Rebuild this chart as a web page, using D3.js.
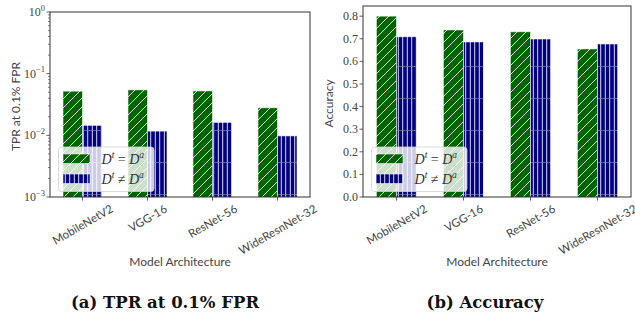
<!DOCTYPE html>
<html>
<head>
<meta charset="utf-8">
<script src="https://cdn.jsdelivr.net/npm/d3@7/dist/d3.min.js"></script>
<style>
  html, body { margin: 0; padding: 0; background: #fff; }
  svg { display: block; }
</style>
</head>
<body>
<svg id="chart" width="635" height="320"></svg>
<script>
// Model architectures on the x axis
const categories = ["MobileNetV2", "VGG-16", "ResNet-56", "WideResnNet-32"];

// TPR at 0.1% FPR (log scale)
const tprSame = [0.052, 0.0546, 0.0525, 0.028];
const tprDiff = [0.0145, 0.0117, 0.0162, 0.0098];

// Accuracy
const accSame = [0.800, 0.739, 0.731, 0.655];
const accDiff = [0.709, 0.686, 0.699, 0.677];

// Tick values
const logTicks = [1e-3, 1e-2, 1e-1, 1];
const logTickExp = ["\u22123", "\u22122", "\u22121", "0"];
const accTicks = [0, 0.1, 0.2, 0.3, 0.4, 0.5, 0.6, 0.7, 0.8];

const svg = d3.select("#chart");
const tickColor = "#444";
const serif = "'Liberation Serif', 'DejaVu Serif', serif";
const capSerif = "'DejaVu Serif', 'Liberation Serif', serif";
const sans = "Lato, 'Open Sans', sans-serif";
const green = "#006400";
const navy = "#000080";
const labelAngle = 30;

// Hatch patterns
const defs = svg.append("defs");
const diag = defs.append("pattern")
  .attr("id", "hatchDiag").attr("patternUnits", "userSpaceOnUse")
  .attr("width", 9).attr("height", 9);
diag.append("rect").attr("width", 9).attr("height", 9).attr("fill", green);
diag.append("path").attr("d", "M-1,10 L10,-1 M-1,1 L1,-1 M8,10 L10,8")
  .attr("stroke", "#e8f0e8").attr("stroke-width", 0.9);

const vert = defs.append("pattern")
  .attr("id", "hatchVert").attr("patternUnits", "userSpaceOnUse")
  .attr("width", 4.5).attr("height", 32).attr("y", 2);
vert.append("rect").attr("width", 4.5).attr("height", 32).attr("fill", navy);
vert.append("line").attr("x1", 2.25).attr("x2", 2.25).attr("y1", 0).attr("y2", 32)
  .attr("stroke", "#ffffff").attr("stroke-width", 0.9);
vert.append("line").attr("x1", 0).attr("x2", 4.5).attr("y1", 0.5).attr("y2", 0.5)
  .attr("stroke", "#8080c0").attr("stroke-width", 1).attr("opacity", 0.7);

function panel(opts) {
  const g = svg.append("g");
  const x = d3.scaleBand().domain(categories).range([opts.x0, opts.x1]).padding(0);
  const y = opts.y;
  const step = x.step();
  const bw = step * 0.3;

  const clipId = "clip" + opts.id;
  defs.append("clipPath").attr("id", clipId)
    .append("rect").attr("x", opts.x0).attr("y", opts.yTop)
    .attr("width", opts.x1 - opts.x0).attr("height", opts.yBottom - opts.yTop);

  const bars = g.append("g").attr("clip-path", `url(#${clipId})`);
  const series = [
    { vals: opts.same, fill: "url(#hatchDiag)", off: -bw },
    { vals: opts.diff, fill: "url(#hatchVert)", off: 0 }
  ];
  series.forEach(s => {
    bars.selectAll(null).data(categories).enter().append("rect")
      .attr("x", (c) => x(c) + step / 2 + s.off)
      .attr("width", bw)
      .attr("y", (c, i) => y(s.vals[i]))
      .attr("height", (c, i) => opts.yBottom - y(s.vals[i]) + 2)
      .attr("fill", s.fill)
      .attr("stroke", "#ffffff").attr("stroke-opacity", 0.55).attr("stroke-width", 1);
  });

  // frame
  g.append("rect").attr("x", opts.x0).attr("y", opts.yTop)
    .attr("width", opts.x1 - opts.x0).attr("height", opts.yBottom - opts.yTop)
    .attr("fill", "none").attr("stroke", "#333").attr("stroke-width", 1);

  // x ticks with rotated labels centred under each group
  const xt = g.append("g");
  categories.forEach(c => {
    const cx = x(c) + step / 2;
    xt.append("line").attr("x1", cx).attr("x2", cx)
      .attr("y1", opts.yBottom).attr("y2", opts.yBottom + 3.5)
      .attr("stroke", "#333").attr("stroke-width", 0.8);
    const t = xt.append("text").text(c)
      .attr("font-family", sans).attr("font-size", 11.5).attr("fill", tickColor)
      .attr("text-anchor", "middle").attr("dominant-baseline", "central");
    const w = t.node().getComputedTextLength();
    const a = labelAngle * Math.PI / 180;
    const hr = w * Math.sin(a) + 10 * Math.cos(a);
    const cy = opts.yBottom + 6 + hr / 2;
    t.attr("transform", `translate(${cx},${cy}) rotate(${-labelAngle})`);
  });

  // x axis title
  g.append("text").text("Model Architecture")
    .attr("x", (opts.x0 + opts.x1) / 2).attr("y", 266)
    .attr("text-anchor", "middle").attr("font-family", sans)
    .attr("font-size", 12).attr("fill", tickColor);

  // y axis title
  g.append("text").text(opts.ylabel)
    .attr("transform", `translate(${opts.x0 - 35},${(opts.yTop + opts.yBottom) / 2 + 2}) rotate(-90)`)
    .attr("text-anchor", "middle").attr("dominant-baseline", "central")
    .attr("font-family", sans).attr("font-size", 12).attr("fill", tickColor);

  // caption
  g.append("text").text(opts.caption)
    .attr("x", opts.capX).attr("y", 308)
    .attr("text-anchor", "middle").attr("font-family", capSerif)
    .attr("font-weight", "bold").attr("font-size", 16.5).attr("fill", "#111");

  // legend
  const lx = opts.x0 + 8.5, ly = 147;
  const lg = g.append("g");
  lg.append("rect").attr("x", lx).attr("y", ly).attr("width", 95.5).attr("height", 44.5)
    .attr("rx", 3).attr("fill", "#ffffff").attr("fill-opacity", 0.8)
    .attr("stroke", "#d0d0d0").attr("stroke-width", 0.8);
  const entries = [
    { fill: "url(#hatchDiag)", rel: "=" },
    { fill: "url(#hatchVert)", rel: "\u2260" }
  ];
  entries.forEach((e, i) => {
    const py = ly + 7 + i * 20;
    lg.append("rect").attr("x", lx + 4.5).attr("y", py).attr("width", 27).attr("height", 9.5)
      .attr("fill", e.fill).attr("stroke", "#ffffff").attr("stroke-opacity", 0.55).attr("stroke-width", 1);
    const t = lg.append("text").attr("x", lx + 43).attr("y", py + 9.5)
      .attr("font-family", serif).attr("font-size", 14).attr("fill", "#333");
    t.append("tspan").attr("font-style", "italic").text("D");
    t.append("tspan").attr("font-style", "italic").attr("font-size", 9.5).attr("dy", -5.5).text("t");
    t.append("tspan").attr("dy", 5.5).text(" " + e.rel + " ");
    t.append("tspan").attr("font-style", "italic").text("D");
    t.append("tspan").attr("font-style", "italic").attr("font-size", 9.5).attr("dy", -5.5).text("a");
  });

  return g;
}

// (a) TPR at 0.1% FPR, log scale
const yLog = d3.scaleLog().domain([1e-3, 1]).range([197, 12]);
const gA = panel({
  id: "A", x0: 50, x1: 310, yTop: 12, yBottom: 197, y: yLog,
  same: tprSame, diff: tprDiff, ylabel: "TPR at 0.1% FPR",
  caption: "(a) TPR at 0.1% FPR", capX: 165
});
// log ticks, majors and minors
logTicks.forEach((v, i) => {
  const yy = yLog(v);
  gA.append("line").attr("x1", 50).attr("x2", 46.5).attr("y1", yy).attr("y2", yy)
    .attr("stroke", "#333").attr("stroke-width", 0.8);
  const t = gA.append("text").attr("x", 45).attr("y", yy + 4)
    .attr("text-anchor", "end").attr("font-family", serif)
    .attr("font-size", 12).attr("fill", tickColor);
  t.append("tspan").text("10");
  t.append("tspan").attr("font-size", 8.5).attr("dy", -5.5).text(logTickExp[i]);
  if (i < logTicks.length - 1) {
    for (let m = 2; m <= 9; m++) {
      const ym = yLog(v * m);
      gA.append("line").attr("x1", 50).attr("x2", 48).attr("y1", ym).attr("y2", ym)
        .attr("stroke", "#333").attr("stroke-width", 0.6);
    }
  }
});

// (b) Accuracy, linear scale
const yLin = d3.scaleLinear().domain([0, 0.845]).range([197, 6]);
const gB = panel({
  id: "B", x0: 363, x1: 631, yTop: 6, yBottom: 197, y: yLin,
  same: accSame, diff: accDiff, ylabel: "Accuracy",
  caption: "(b) Accuracy", capX: 485
});
accTicks.forEach(v => {
  const yy = yLin(v);
  gB.append("line").attr("x1", 363).attr("x2", 359.5).attr("y1", yy).attr("y2", yy)
    .attr("stroke", "#333").attr("stroke-width", 0.8);
  gB.append("text").attr("x", 358).attr("y", yy + 4)
    .attr("text-anchor", "end").attr("font-family", serif)
    .attr("font-size", 12).attr("fill", tickColor).text(d3.format(".1f")(v));
});
</script>
</body>
</html>
